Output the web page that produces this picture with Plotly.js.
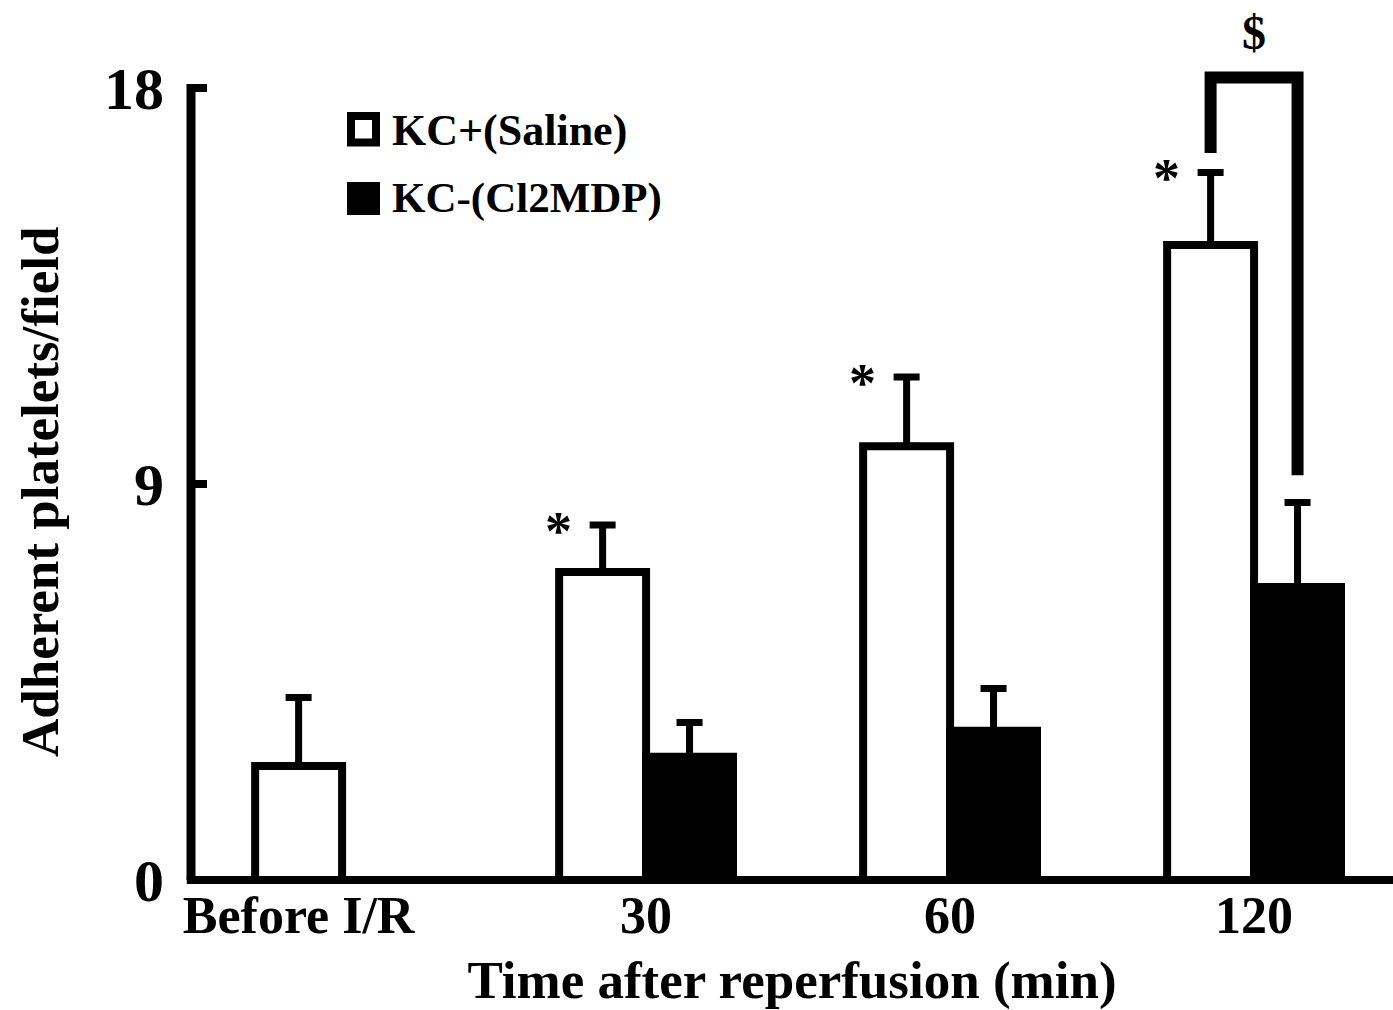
<!DOCTYPE html>
<html>
<head>
<meta charset="utf-8">
<script src="https://cdn.plot.ly/plotly-3.0.1.min.js"></script>
<style>html,body{margin:0;padding:0;background:#fff;}#chart{width:1393px;height:1010px;}</style>
</head>
<body>
<div id="chart"></div>
<script>
// ---- data ----
const categories = ['Before I/R', '30', '60', '120'];
const seriesNames = ['KC+(Saline)', 'KC-(Cl2MDP)'];
const saline = [2.59, 7.00, 9.86, 14.43];
const salineErr = [1.56, 1.07, 1.57, 1.65];
const cl2mdp = [null, 2.80, 3.39, 6.66];
const cl2mdpErr = [null, 0.78, 0.96, 1.92];
const starMarks = ['', '*', '*', '*'];
const yTicks = [0, 9, 18];
const xTitle = 'Time after reperfusion (min)';
const yTitle = 'Adherent platelets/field';
const bracketLabel = '$';
const bracketTop = 18.24;
const bracketLeftEnd = 16.52;
const bracketRightEnd = 9.2;

// ---- layout constants ----
const FONT = 'Liberation Serif, Times New Roman, serif';
const barW = 0.286;
const W = 1393, H = 1010;
const mL = 191, mR = 0, mT = 22, mB = 130;
const yMax = 19.5;
const xs = categories.map((c, i) => i);
const pw = W - mL - mR, ph = H - mT - mB;
const px2paperX = p => (p - mL) / pw;
const px2paperY = p => (H - mB - p) / ph;

const errStyle = {type: 'data', symmetric: false, color: '#000', thickness: 7, width: 13};

const traces = [
  {type: 'bar', name: seriesNames[0], x: xs, y: saline,
   marker: {color: '#fff', line: {color: '#000', width: 8}},
   error_y: Object.assign({array: salineErr, arrayminus: saline.map(() => 0)}, errStyle),
   showlegend: false, hoverinfo: 'skip'},
  {type: 'bar', name: seriesNames[1], x: xs, y: cl2mdp,
   marker: {color: '#000', line: {color: '#000', width: 8}},
   error_y: Object.assign({array: cl2mdpErr, arrayminus: cl2mdp.map(() => 0)}, errStyle),
   showlegend: false, hoverinfo: 'skip'}
];

const tickPos = xs.map((x, i) => i === 0 ? x - barW / 2 : x);

const annotations = [];
// asterisks
starMarks.forEach((s, i) => {
  if (!s) return;
  annotations.push({x: xs[i] - barW / 2, y: saline[i] + salineErr[i], xref: 'x', yref: 'y',
    text: s, showarrow: false, xanchor: 'center', yanchor: 'middle', xshift: -44, yshift: -6,
    font: {family: FONT, size: 54, color: '#000', weight: 'bold'}});
});
// bracket label
annotations.push({x: xs[3], y: px2paperY(33), xref: 'x', yref: 'paper', text: bracketLabel,
  showarrow: false, xanchor: 'center', yanchor: 'middle',
  font: {family: FONT, size: 48, color: '#000', weight: 'bold'}});
// y title
annotations.push({x: px2paperX(40), y: px2paperY(492), xref: 'paper', yref: 'paper', text: yTitle,
  textangle: -90, showarrow: false, xanchor: 'center', yanchor: 'middle',
  font: {family: FONT, size: 53, color: '#000', weight: 'bold'}});
// legend texts
annotations.push({x: px2paperX(390), y: px2paperY(131), xref: 'paper', yref: 'paper', text: seriesNames[0],
  showarrow: false, xanchor: 'left', yanchor: 'middle',
  font: {family: FONT, size: 44, color: '#000', weight: 'bold'}});
annotations.push({x: px2paperX(390), y: px2paperY(198), xref: 'paper', yref: 'paper', text: seriesNames[1],
  showarrow: false, xanchor: 'left', yanchor: 'middle',
  font: {family: FONT, size: 43, color: '#000', weight: 'bold'}});

const bx0 = xs[3] - barW / 2, bx1 = xs[3] + barW / 2;
const shapes = [
  // y axis line
  {type: 'line', xref: 'paper', yref: 'y', x0: 0, x1: 0, y0: 0, y1: 18.09, line: {color: '#000', width: 9}},
  // x axis line
  {type: 'line', xref: 'paper', yref: 'paper', x0: -0.0035, x1: 1, y0: 0, y1: 0, line: {color: '#000', width: 8}},
  // bracket
  {type: 'path', xref: 'x', yref: 'y',
   path: `M ${bx0} ${bracketLeftEnd} L ${bx0} ${bracketTop} L ${bx1} ${bracketTop} L ${bx1} ${bracketRightEnd}`,
   line: {color: '#000', width: 12}},
  // legend squares
  {type: 'rect', xref: 'paper', yref: 'paper', x0: px2paperX(351), x1: px2paperX(376),
   y0: px2paperY(116), y1: px2paperY(142.5), fillcolor: '#fff', line: {color: '#000', width: 8}},
  {type: 'rect', xref: 'paper', yref: 'paper', x0: px2paperX(347), x1: px2paperX(380),
   y0: px2paperY(182), y1: px2paperY(215), fillcolor: '#000', line: {color: '#000', width: 0}}
];

const layout = {
  width: W, height: H,
  margin: {l: mL, r: mR, t: mT, b: mB, pad: 0},
  paper_bgcolor: '#fff', plot_bgcolor: '#fff',
  barmode: 'group', bargap: 1 - 2 * barW, bargroupgap: 0,
  showlegend: false,
  xaxis: {
    range: [-0.497, 3.457], showgrid: false, zeroline: false, showline: false,
    tickmode: 'array', tickvals: tickPos, ticktext: categories, ticks: '',
    tickfont: {family: FONT, size: 52, color: '#000', weight: 'bold'},
    ticklabelstandoff: 0,
    title: {text: xTitle, standoff: 18, font: {family: FONT, size: 53, color: '#000', weight: 'bold'}},
    fixedrange: true
  },
  yaxis: {
    range: [0, yMax], showgrid: false, zeroline: false, showline: false,
    tickmode: 'array', tickvals: yTicks, ticktext: yTicks.map(String),
    ticks: 'inside', ticklen: 16, tickwidth: 8, tickcolor: '#000',
    tickfont: {family: FONT, size: 60, color: '#000', weight: 'bold'},
    ticklabelstandoff: 26,
    fixedrange: true
  },
  annotations: annotations,
  shapes: shapes
};

Plotly.newPlot('chart', traces, layout, {displayModeBar: false, staticPlot: true});
</script>
</body>
</html>
